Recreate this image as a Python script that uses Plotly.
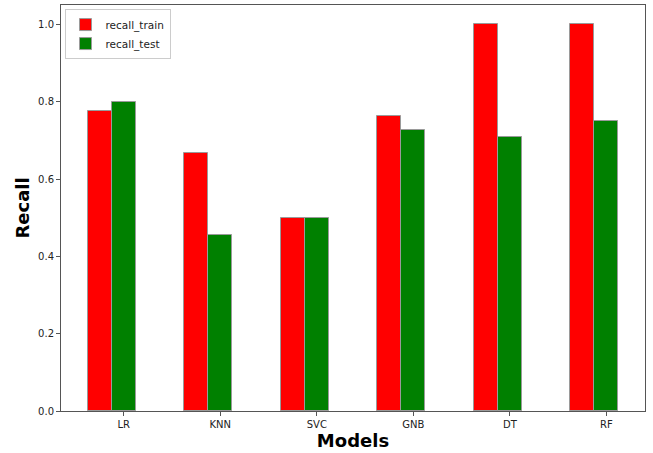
import plotly.graph_objects as go

models = ["LR", "KNN", "SVC", "GNB", "DT", "RF"]
recall_train = [0.775, 0.667, 0.5, 0.762, 1.0, 1.0]
recall_test = [0.80, 0.455, 0.5, 0.726, 0.709, 0.75]
yticks = [0.0, 0.2, 0.4, 0.6, 0.8, 1.0]

BAR_W = 0.25
pos = list(range(len(models)))
EDGE = dict(color="#9a9a9a", width=1)

fig = go.Figure()
fig.add_trace(go.Bar(x=[p - BAR_W for p in pos], y=recall_train, width=BAR_W,
                     name="recall_train", marker=dict(color="red", line=EDGE)))
fig.add_trace(go.Bar(x=pos, y=recall_test, width=BAR_W,
                     name="recall_test", marker=dict(color="green", line=EDGE)))

axis_common = dict(showline=True, linecolor="#555", linewidth=1, mirror=True,
                   ticks="outside", ticklen=4, tickcolor="#555", showgrid=False,
                   zeroline=False, tickfont=dict(size=10, color="#222"))

fig.update_layout(
    width=653, height=453,
    margin=dict(l=61, r=8, t=5, b=42),
    plot_bgcolor="white", paper_bgcolor="white",
    font=dict(family="DejaVu Sans"),
    barmode="overlay", bargap=0,
    showlegend=True,
    legend=dict(x=0.006, y=0.99, xanchor="left", yanchor="top",
                bgcolor="rgba(255,255,255,0.8)", bordercolor="#ccc", borderwidth=1,
                font=dict(size=10.5, color="#222"), tracegroupgap=0,
                itemwidth=30),
    xaxis=dict(range=[-0.65, 5.4], tickvals=pos, ticktext=models,
               title=dict(text="<b>Models</b>", font=dict(size=18, color="black"), standoff=2),
               **axis_common),
    yaxis=dict(range=[0, 1.05], tickvals=yticks, tickformat=".1f",
               title=dict(text="<b>Recall</b>", font=dict(size=18, color="black"), standoff=3),
               **axis_common),
)

# drop the default page margin so the figure sits at the window's corner
fig.write_html("out.html", config={"displayModeBar": False},
               post_script="document.body.style.margin='0';")
